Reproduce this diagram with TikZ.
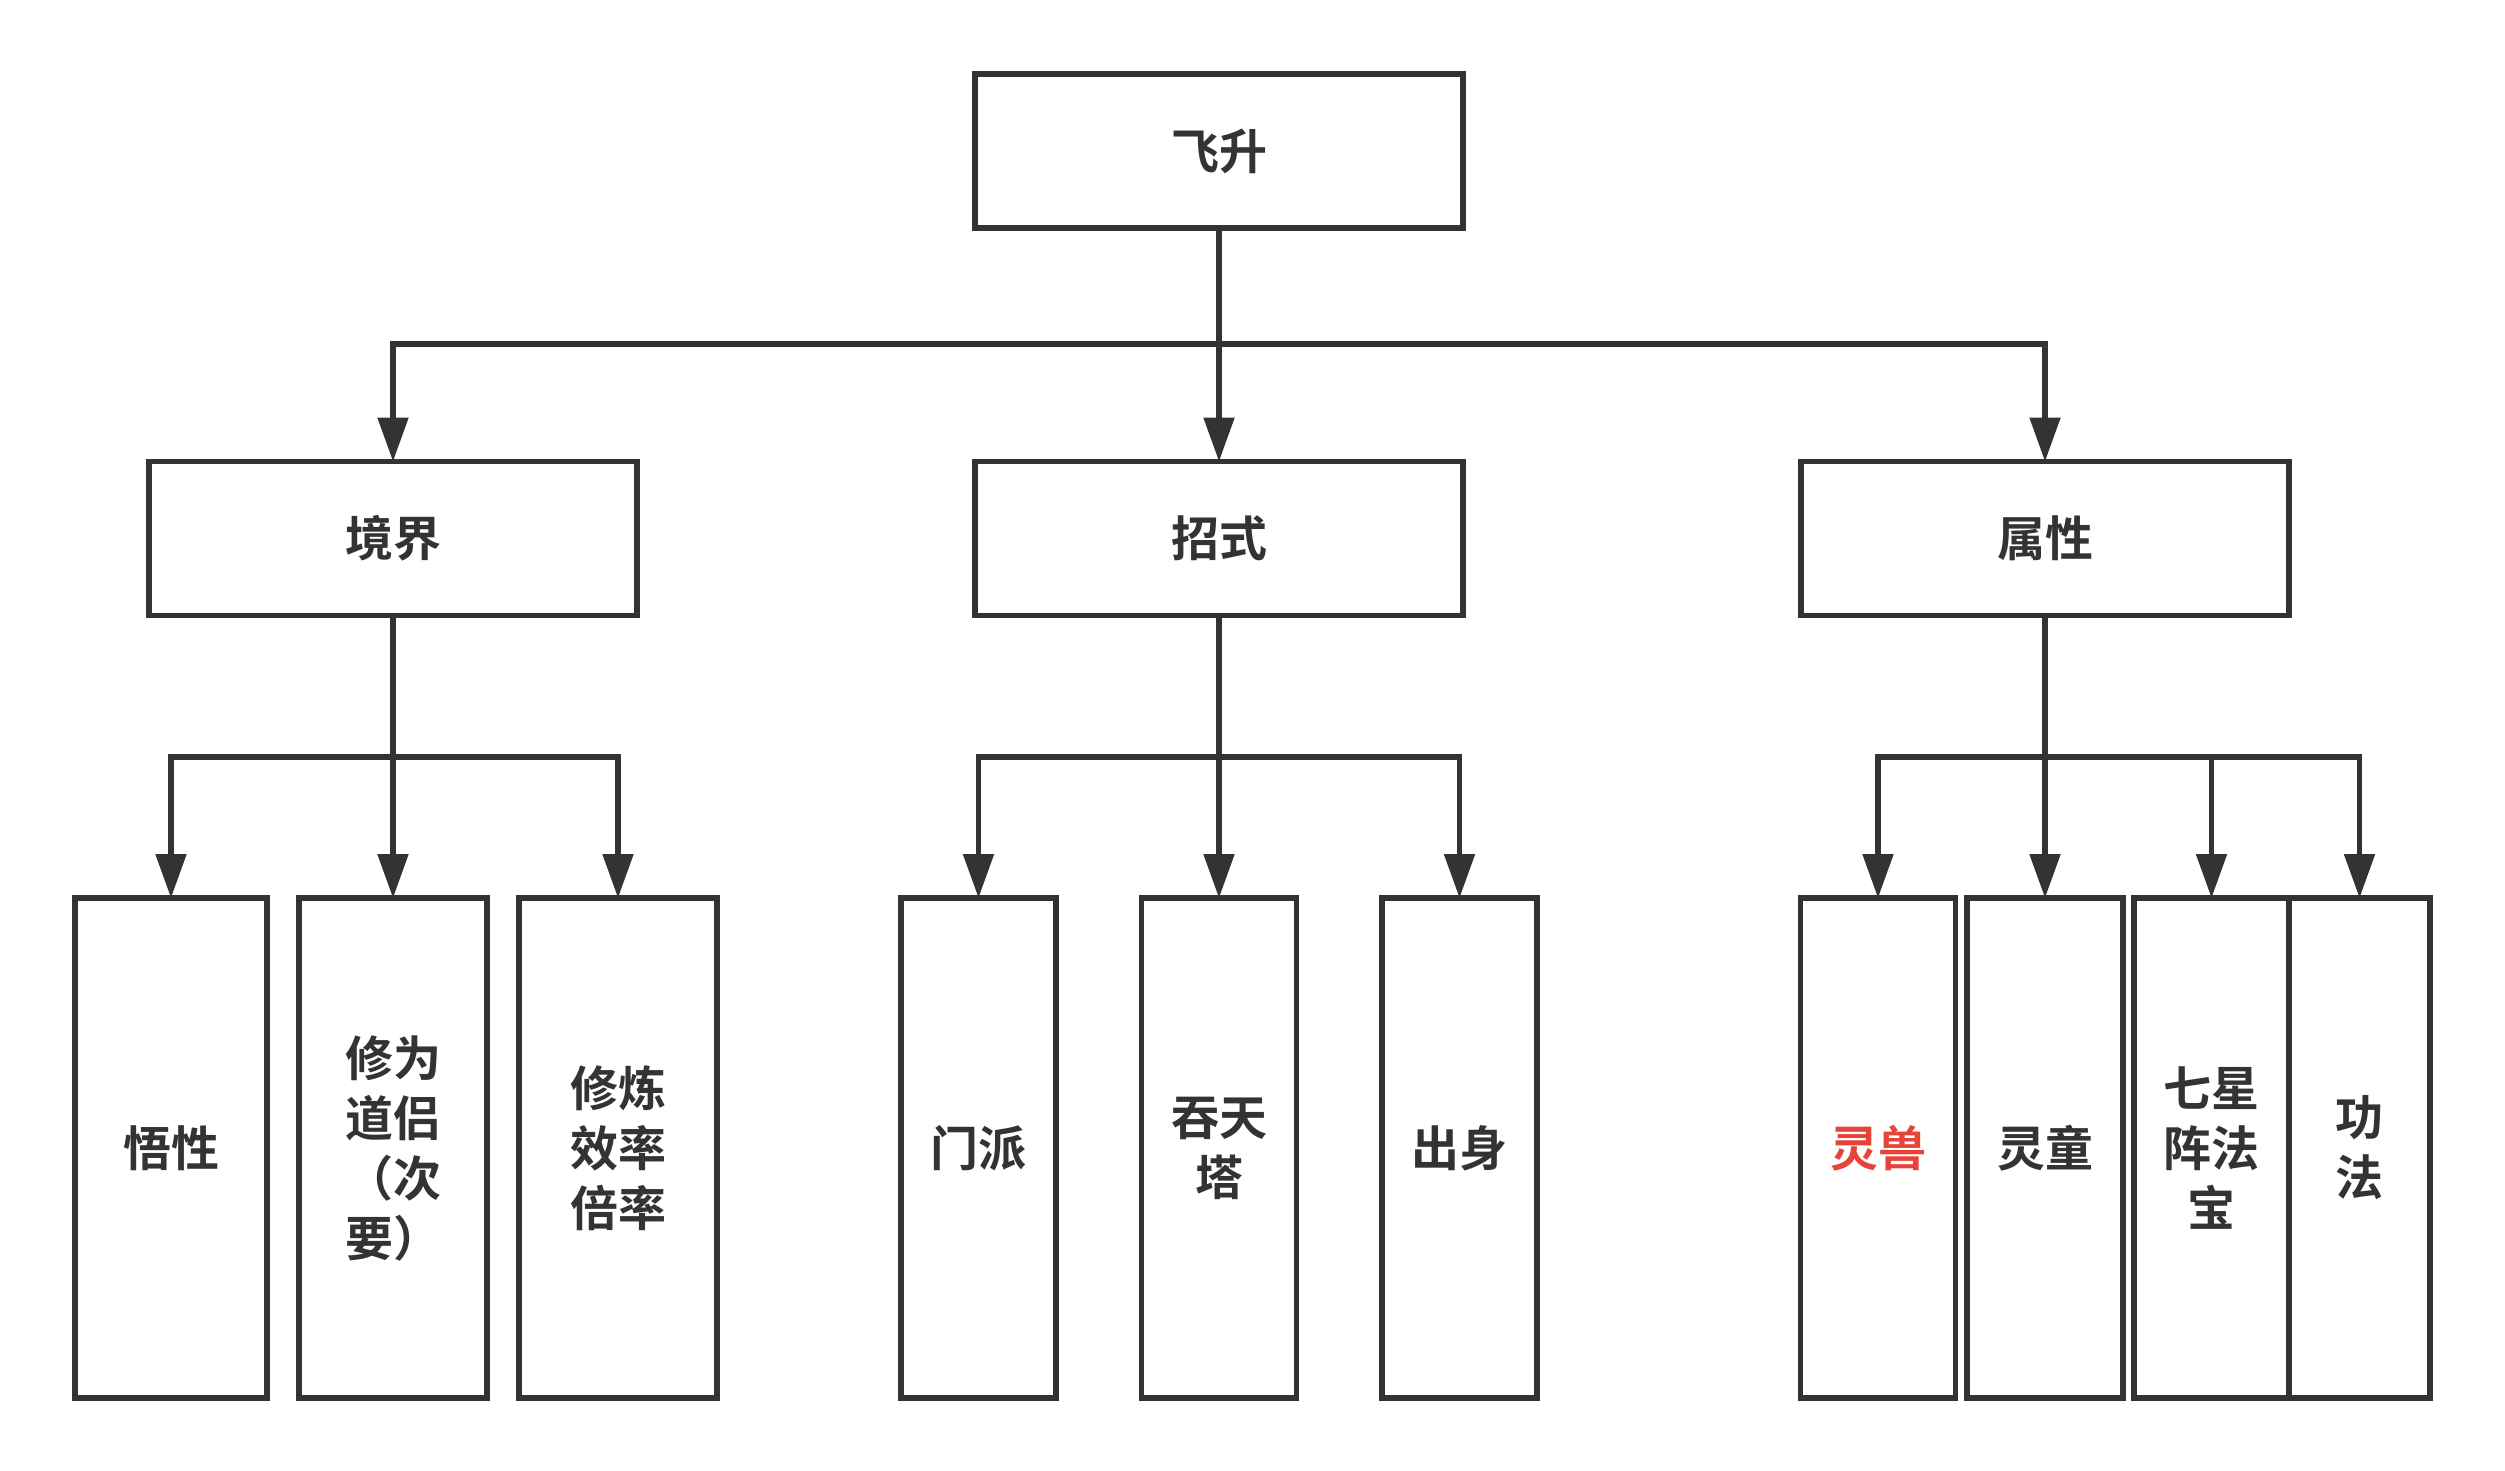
\documentclass[tikz,border=0pt]{standalone}
\usepackage{fontspec}
\newfontfamily\cjkb{Noto Sans CJK SC Bold}
\usetikzlibrary{arrows.meta}
\definecolor{ink}{HTML}{333333}
\definecolor{redtxt}{HTML}{E8433A}
\begin{document}
\begin{tikzpicture}[x=0.5pt,y=-0.5pt,
  box/.style={draw=ink, line width=2.6pt, fill=white, inner sep=0pt, outer sep=0pt,
    font=\cjkb\fontsize{24}{30}\selectfont, text=ink, align=center},
  top/.style={box, minimum width=244pt, minimum height=77pt},
  leaf/.style={box, minimum width=77.5pt, minimum height=250pt},
  conn/.style={draw=ink, line width=2.6pt, -{Triangle[length=22pt,width=15pt]}}]
\useasboundingbox (0,0) rectangle (2505,1471);
\fill[white] (0,0) rectangle (2505,1471);

% level 1
\node[top] (fs) at (1219,151) {飞升};
% level 2
\node[top] (jj) at (393,538.5) {境界};
\node[top] (zs) at (1219,538.5) {招式};
\node[top] (sx) at (2045,538.5) {属性};
% level 3
\node[leaf, minimum width=96pt] (wx) at (171,1148) {悟性};
\node[leaf, minimum width=94pt] (xw) at (393,1148) {修为\\道侣\\（次\\要）};
\node[leaf, minimum width=99pt] (xl) at (618,1148) {修炼\\效率\\倍率};
\node[leaf] (mp) at (978.5,1148) {门派};
\node[leaf] (tt) at (1219,1148) {吞天\\塔};
\node[leaf] (cs) at (1459.5,1148) {出身};
\node[leaf, text=redtxt] (ls) at (1878,1148) {灵兽};
\node[leaf, minimum width=78pt] (lt) at (2045,1148) {灵童};
\node[leaf] (qx) at (2211.5,1148) {七星\\阵法\\宝};
\node[leaf, minimum width=70.5pt] (gf) at (2359.5,1148) {功\\法};

% bus coordinates
\coordinate (b0) at (1219,344);
\coordinate (b1) at (393,757);
\coordinate (b2) at (1219,757);
\coordinate (b3) at (2045,757);

% connectors level 1 -> 2
\draw[conn] (fs.south) -- (b0) -| (jj.north);
\draw[conn] (fs.south) -- (zs.north);
\draw[conn] (b0) -| (sx.north);

% connectors 境界
\draw[conn] (jj.south) -- (b1) -| (wx.north);
\draw[conn] (jj.south) -- (xw.north);
\draw[conn] (b1) -| (xl.north);

% connectors 招式
\draw[conn] (zs.south) -- (b2) -| (mp.north);
\draw[conn] (zs.south) -- (tt.north);
\draw[conn] (b2) -| (cs.north);

% connectors 属性
\draw[conn] (sx.south) -- (b3) -| (ls.north);
\draw[conn] (sx.south) -- (lt.north);
\draw[conn] (b3) -| (qx.north);
\draw[conn] (b3) -| (gf.north);
\end{tikzpicture}
\end{document}
